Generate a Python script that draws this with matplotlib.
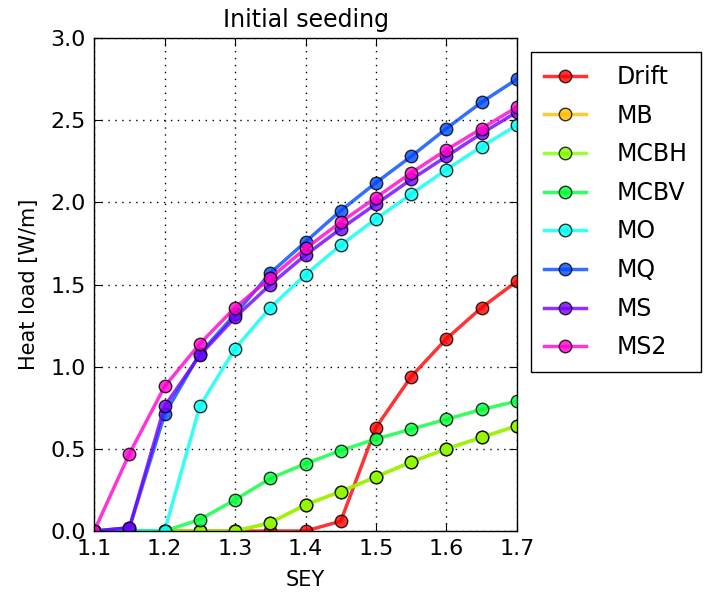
import matplotlib
matplotlib.use("Agg")
import matplotlib.pyplot as plt
import numpy as np

sey = [1.1, 1.15, 1.2, 1.25, 1.3, 1.35, 1.4, 1.45, 1.5, 1.55, 1.6, 1.65, 1.7]
names = ["Drift", "MB", "MCBH", "MCBV", "MO", "MQ", "MS", "MS2"]

drift = [0, 0, 0, 0, 0, 0, 0, 0.06, 0.63, 0.94, 1.17, 1.36, 1.52]
mb    = [0, 0, 0, 0, 0, 0.05, 0.16, 0.24, 0.33, 0.42, 0.50, 0.57, 0.64]
mcbh  = [0, 0, 0, 0, 0, 0.05, 0.16, 0.24, 0.33, 0.42, 0.50, 0.57, 0.64]
mcbv  = [0, 0, 0, 0.07, 0.19, 0.32, 0.41, 0.49, 0.56, 0.62, 0.68, 0.74, 0.79]
mo    = [0, 0, 0, 0.76, 1.11, 1.36, 1.56, 1.74, 1.90, 2.05, 2.20, 2.34, 2.47]
mq    = [0, 0.02, 0.71, 1.08, 1.32, 1.57, 1.76, 1.95, 2.12, 2.28, 2.45, 2.61, 2.75]
ms    = [0, 0.02, 0.76, 1.07, 1.30, 1.50, 1.68, 1.84, 1.99, 2.14, 2.28, 2.42, 2.55]
ms2   = [0, 0.47, 0.88, 1.14, 1.36, 1.54, 1.72, 1.88, 2.03, 2.18, 2.32, 2.45, 2.58]
series = [drift, mb, mcbh, mcbv, mo, mq, ms, ms2]

fig = plt.figure(figsize=(7.08, 5.96), dpi=100)
ax = fig.add_axes([0.133, 0.109, 0.597, 0.827])

cmap = plt.get_cmap('hsv')
for i, (name, vals) in enumerate(zip(names, series)):
    ax.plot(sey, vals, '-o', color=cmap(i / 8.0), lw=2.5, ms=9,
            mec='black', mew=1, alpha=0.8, label=name)

ax.set_xlim(1.1, 1.7)
ax.set_ylim(0, 3.0)
ax.set_xticks(np.arange(1.1, 1.71, 0.1))
ax.set_yticks(np.arange(0, 3.01, 0.5))
ax.set_xticklabels([f"{v:.1f}" for v in np.arange(1.1, 1.71, 0.1)])
ax.set_yticklabels([f"{v:.1f}" for v in np.arange(0, 3.01, 0.5)])
ax.grid(True, color='black', linestyle=(0, (1, 4)), linewidth=1)
ax.tick_params(direction='in', top=True, right=True, labelsize=16, length=6, pad=6)
for s in ax.spines.values():
    s.set_linewidth(1)
ax.set_xlabel("SEY", fontsize=15, labelpad=8)
ax.set_ylabel("Heat load [W/m]", fontsize=15, labelpad=8)
ax.set_title("Initial seeding", fontsize=17, pad=8)

leg = ax.legend(loc='upper left', bbox_to_anchor=(1.033, 0.972), borderaxespad=0,
                fontsize=17, fancybox=False, edgecolor='black', framealpha=1,
                labelspacing=0.62, handlelength=1.8, handletextpad=1.3,
                borderpad=0.55)
leg.get_frame().set_linewidth(1)

fig.savefig("out.png", dpi=100)
